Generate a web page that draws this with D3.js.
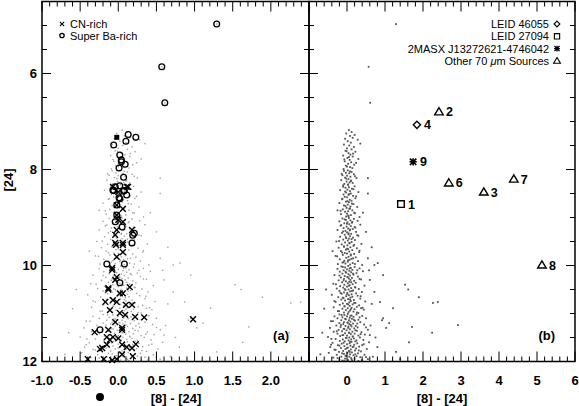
<!DOCTYPE html>
<html><head><meta charset="utf-8">
<script src="https://cdn.jsdelivr.net/npm/d3@7"></script>
<style>
body{margin:0;background:#fff}
svg{display:block}
text{font-family:"Liberation Sans",Arial,Helvetica,sans-serif;fill:#000}
</style>
</head><body>
<svg id="chart" width="579" height="406"></svg>
<script>
// ---------- DATA ----------
// field stars: [8]-[24] colour, [24] magnitude
const fieldStars = [
[0.05,7.18],[0.12,7.22],[-0.02,7.25],[0.2,7.28],[0.08,7.3],[0.15,7.34],[-0.05,7.36],[0.28,7.38],[0.02,7.41],[0.1,7.44],[0.35,7.46],[-0.08,7.48],[0.06,7.5],[0.18,7.53],[0.0,7.56],[0.12,7.58],[-0.04,7.61],[0.22,7.63],[0.04,7.66],[0.09,7.69],[-0.1,7.71],[0.15,7.73],[0.01,7.76],[0.3,7.78],[0.07,7.8],[-0.06,7.83],[0.11,7.85],[0.03,7.88],[0.19,7.9],[-0.03,7.92],[0.08,7.95],[0.14,7.97],[-0.09,7.99],
[0.02,8.02],[-0.08,8.03],[0.12,8.05],[-0.03,8.07],[0.06,8.08],[0.18,8.1],[-0.12,8.12],[0.0,8.13],[0.09,8.15],[-0.05,8.17],[0.25,8.18],[0.04,8.2],[-0.15,8.22],[0.11,8.23],[-0.01,8.25],[0.07,8.27],[0.15,8.28],[-0.07,8.3],[0.03,8.32],[-0.1,8.33],[0.2,8.35],[0.05,8.37],[-0.04,8.38],[0.13,8.4],[0.01,8.42],[-0.18,8.43],[0.08,8.45],[0.3,8.47],[-0.02,8.48],[0.1,8.5],[-0.09,8.52],[0.04,8.53],[0.16,8.55],[-0.06,8.57],[0.0,8.58],[0.22,8.6],[-0.13,8.62],[0.07,8.63],[0.12,8.65],[-0.03,8.67],[0.05,8.68],[-0.2,8.7],[0.17,8.72],[0.02,8.73],[-0.08,8.75],[0.09,8.77],[0.27,8.78],[-0.01,8.8],[0.06,8.82],[-0.11,8.83],[0.14,8.85],[0.03,8.87],[-0.05,8.88],[0.19,8.9],[0.0,8.92],[-0.16,8.93],[0.1,8.95],[0.04,8.97],[-0.02,8.98],[0.33,8.99],[0.55,8.5],[0.42,8.9],[-0.25,8.85],
[0.05,9.01],[-0.12,9.02],[0.18,9.03],[-0.03,9.05],[0.09,9.06],[0.28,9.07],[-0.2,9.08],[0.01,9.1],[0.13,9.11],[-0.07,9.12],[0.06,9.14],[0.35,9.15],[-0.15,9.16],[0.1,9.18],[-0.01,9.19],[0.2,9.2],[-0.09,9.22],[0.03,9.23],[0.15,9.24],[-0.25,9.26],[0.07,9.27],[-0.04,9.28],[0.24,9.3],[0.0,9.31],[-0.13,9.32],[0.11,9.34],[0.04,9.35],[-0.06,9.36],[0.3,9.38],[0.08,9.39],[-0.18,9.4],[0.16,9.42],[-0.02,9.43],[0.05,9.44],[-0.1,9.46],[0.21,9.47],[0.02,9.48],[-0.28,9.5],[0.12,9.51],[-0.05,9.52],[0.07,9.54],[0.38,9.55],[-0.14,9.56],[0.01,9.58],[0.17,9.59],[-0.08,9.6],[0.09,9.62],[-0.22,9.63],[0.26,9.64],[0.03,9.66],[-0.03,9.67],[0.14,9.68],[-0.16,9.7],[0.06,9.71],[0.32,9.72],[-0.06,9.74],[0.0,9.75],[0.19,9.76],[-0.11,9.78],[0.1,9.79],[-0.3,9.8],[0.04,9.82],[0.23,9.83],[-0.02,9.84],[0.12,9.86],[-0.19,9.87],[0.07,9.88],[-0.07,9.9],[0.29,9.91],[0.02,9.92],[-0.12,9.94],[0.15,9.95],[-0.04,9.96],[0.08,9.98],[0.4,9.99],[-0.24,9.97],[0.65,9.62],[0.81,9.95],[0.72,9.99],[0.5,9.3],[-0.38,9.7],[0.55,9.85],
[0.03,10.01],[-0.15,10.02],[0.2,10.03],[-0.05,10.04],[0.1,10.05],[0.33,10.06],[-0.25,10.07],[0.0,10.08],[0.14,10.09],[-0.09,10.1],[0.06,10.11],[0.42,10.12],[-0.19,10.13],[0.11,10.14],[-0.02,10.15],[0.25,10.16],[-0.12,10.17],[0.04,10.18],[0.17,10.19],[-0.33,10.2],[0.08,10.21],[-0.06,10.22],[0.29,10.23],[0.01,10.24],[-0.16,10.25],[0.13,10.26],[0.05,10.27],[-0.08,10.28],[0.37,10.29],[0.09,10.3],[-0.22,10.31],[0.19,10.32],[-0.03,10.33],[0.06,10.34],[-0.13,10.35],[0.23,10.36],[0.02,10.37],[-0.36,10.38],[0.15,10.39],[-0.07,10.4],[0.07,10.41],[0.46,10.42],[-0.18,10.43],[0.0,10.44],[0.21,10.45],[-0.1,10.46],[0.11,10.47],[-0.27,10.48],[0.31,10.49],[0.04,10.5],[-0.04,10.51],[0.16,10.52],[-0.2,10.53],[0.08,10.54],[0.39,10.55],[-0.08,10.56],[0.01,10.57],[0.24,10.58],[-0.14,10.59],[0.12,10.6],[-0.4,10.61],[0.05,10.62],[0.28,10.63],[-0.02,10.64],[0.14,10.65],[-0.23,10.66],[0.09,10.67],[-0.09,10.68],[0.35,10.69],[0.03,10.7],[-0.15,10.71],[0.18,10.72],[-0.05,10.73],[0.1,10.74],[0.48,10.75],[-0.3,10.76],[0.06,10.77],[0.22,10.78],[-0.11,10.79],[0.0,10.8],[0.15,10.81],[-0.19,10.82],[0.32,10.83],[0.07,10.84],[-0.06,10.85],[0.26,10.86],[-0.35,10.87],[0.12,10.88],[0.02,10.89],[-0.12,10.9],[0.2,10.91],[0.44,10.92],[-0.03,10.93],[0.08,10.94],[-0.24,10.95],[0.17,10.96],[0.04,10.97],[-0.08,10.98],[0.3,10.99],
[1.53,10.4],[1.61,10.5],[1.89,10.66],[2.26,10.78],[2.39,10.76],[0.87,10.76],[0.37,10.89],[0.6,10.3],[0.72,10.55],[0.95,10.2],[-0.55,10.5],[-0.6,10.9],[0.58,10.1],[1.21,10.89],[0.65,10.8],
[0.02,11.01],[-0.2,11.02],[0.25,11.02],[-0.07,11.03],[0.12,11.04],[0.4,11.05],[-0.33,11.06],[0.0,11.06],[0.17,11.07],[-0.12,11.08],[0.07,11.09],[0.5,11.1],[-0.25,11.1],[0.13,11.11],[-0.03,11.12],[0.3,11.13],[-0.15,11.14],[0.05,11.14],[0.21,11.15],[-0.42,11.16],[0.09,11.17],[-0.08,11.18],[0.35,11.18],[0.01,11.19],[-0.2,11.2],[0.16,11.21],[0.06,11.22],[-0.1,11.22],[0.45,11.23],[0.1,11.24],[-0.28,11.25],[0.23,11.26],[-0.04,11.26],[0.04,11.27],[-0.17,11.28],[0.28,11.29],[0.03,11.3],[-0.45,11.3],[0.19,11.31],[-0.09,11.32],[0.08,11.33],[0.55,11.34],[-0.22,11.34],[-0.01,11.35],[0.26,11.36],[-0.13,11.37],[0.14,11.38],[-0.35,11.38],[0.38,11.39],[0.05,11.4],[-0.05,11.41],[0.2,11.42],[-0.25,11.42],[0.1,11.43],[0.47,11.44],[-0.1,11.45],[0.0,11.46],[0.3,11.46],[-0.18,11.47],[0.15,11.48],[-0.5,11.49],[0.06,11.5],[0.34,11.5],[-0.03,11.51],[0.18,11.52],[-0.3,11.53],[0.11,11.54],[-0.11,11.54],[0.43,11.55],[0.04,11.56],[-0.19,11.57],[0.22,11.58],[-0.06,11.58],[0.12,11.59],[0.58,11.6],[-0.38,11.61],[0.07,11.62],[0.27,11.62],[-0.14,11.63],[0.0,11.64],[0.19,11.65],[-0.24,11.66],[0.4,11.66],[0.09,11.67],[-0.07,11.68],[0.32,11.69],[-0.44,11.7],[0.15,11.7],[0.02,11.71],[-0.16,11.72],[0.24,11.73],[0.52,11.74],[-0.04,11.74],[0.1,11.75],[-0.3,11.76],[0.21,11.77],[0.05,11.78],[-0.1,11.78],[0.37,11.79],[-0.21,11.8],[0.13,11.81],[0.01,11.82],[-0.48,11.82],[0.29,11.83],[-0.08,11.84],[0.08,11.85],[0.46,11.86],[-0.27,11.86],[0.17,11.87],[-0.02,11.88],[0.25,11.89],[-0.15,11.9],[0.06,11.9],[0.35,11.91],[-0.36,11.92],[0.11,11.93],[-0.05,11.94],[0.2,11.94],[0.55,11.95],[-0.2,11.96],[0.03,11.97],[0.14,11.98],[-0.12,11.98],[0.3,11.99],
[2.92,11.24],[2.24,11.4],[1.71,11.28],[0.92,11.14],[0.95,11.1],[1.63,11.6],[1.29,11.8],[1.11,11.2],[1.03,11.3],[0.75,11.5],[0.68,11.9],[-0.65,11.4],[-0.7,11.85],[0.8,11.7],[1.4,11.95],[0.62,11.25],
[1.29,4.97],[0.57,5.86],[0.61,6.61],[0.55,8.18],
[-0.01,7.62],[0.16,7.67],[0.05,7.74],[-0.07,7.79],[0.24,7.86],[0.0,7.94],
[0.08,8.04],[-0.14,8.09],[0.21,8.14],[-0.02,8.19],[0.1,8.24],[0.03,8.31],[-0.1,8.36],[0.17,8.41],[-0.05,8.46],[0.06,8.51],[0.24,8.56],[-0.12,8.61],[0.01,8.66],[0.13,8.71],[-0.04,8.76],[0.08,8.81],[-0.17,8.86],[0.21,8.91],[0.03,8.96],
[-0.06,9.04],[0.14,9.09],[0.0,9.13],[-0.17,9.17],[0.22,9.21],[0.08,9.25],[-0.1,9.29],[0.04,9.33],[0.27,9.37],[-0.03,9.41],[0.12,9.45],[-0.21,9.49],[0.06,9.53],[0.19,9.57],[-0.08,9.61],[0.0,9.65],[0.33,9.69],[-0.13,9.73],[0.1,9.77],[-0.26,9.81],[0.16,9.85],[0.03,9.89],[-0.09,9.93],[0.21,9.97],
[-0.11,10.03],[0.07,10.06],[0.27,10.1],[-0.04,10.13],[0.16,10.17],[-0.2,10.21],[0.02,10.24],[0.33,10.28],[-0.09,10.31],[0.11,10.35],[-0.29,10.39],[0.05,10.42],[0.22,10.46],[-0.06,10.49],[0.13,10.53],[-0.17,10.57],[0.0,10.6],[0.36,10.64],[-0.11,10.67],[0.08,10.71],[-0.33,10.74],[0.19,10.78],[0.03,10.81],[-0.07,10.85],[0.41,10.88],[0.1,10.91],[-0.21,10.95],[0.26,10.98],
[-0.14,11.03],[0.09,11.05],[0.33,11.08],[-0.05,11.11],[0.18,11.13],[-0.37,11.16],[0.02,11.19],[0.27,11.21],[-0.16,11.24],[0.12,11.27],[0.5,11.29],[-0.07,11.32],[0.22,11.35],[-0.27,11.37],[0.06,11.4],[0.36,11.43],[-0.12,11.45],[0.15,11.48],[-0.01,11.51],[-0.41,11.53],[0.25,11.56],[0.08,11.59],[-0.09,11.61],[0.44,11.64],[-0.2,11.67],[0.17,11.69],[0.0,11.72],[-0.33,11.75],[0.31,11.77],[0.07,11.8],[-0.13,11.83],[0.22,11.85],[-0.04,11.88],[0.5,11.91],[-0.25,11.93],[0.12,11.96],[-0.07,11.99],[0.39,11.97],[-0.42,11.65],[0.6,11.45]
];
// CN-rich stars (crosses, panel a)
const cnRich = [
[0.13,8.36],[0.0,8.47],[0.06,8.82],[-0.02,8.74],[0.18,9.26],[-0.04,9.36],[0.0,9.05],[-0.07,8.36],[0.11,8.36],
[-0.03,9.57],[0.06,9.57],[0.06,9.72],[-0.02,9.82],[-0.08,10.09],[-0.04,10.3],[-0.13,10.47],[0.15,10.45],[0.06,10.58],[-0.17,10.76],[0.1,10.82],[0.18,10.82],[-0.02,10.76],[0.22,11.07],[0.34,11.08],[0.02,10.99],[-0.31,11.39],[-0.13,11.34],[0.05,11.34],[-0.07,11.49],[0.11,11.7],[0.18,11.72],[0.23,11.64],[-0.21,11.72],[-0.15,11.65],[0.05,11.65],[-0.11,11.55],
[-0.02,8.95],[-0.02,9.26],[0.06,9.53],[-0.04,9.53],[0.98,11.12],[-0.24,11.74],[0.05,11.85],[0.19,11.89],[-0.4,11.95],[-0.19,11.95],[-0.08,11.97],[-0.02,11.95],
[-0.08,10.05],[-0.02,10.24],[-0.13,10.5],[0.02,10.58],[-0.07,10.72],[-0.11,10.93],[0.09,11.03],[-0.04,11.18],[0.05,11.3],[-0.15,11.49],[0.0,11.52],[0.06,9.09]
];
// Super Ba-rich stars (open circles, panel a)
const superBaRich = [
[1.29,4.97],[0.57,5.86],[0.61,6.61],
[0.13,7.27],[0.10,7.41],[0.23,7.33],[-0.06,7.49],[0.02,7.70],[0.04,7.84],[0.09,7.89],[0.01,7.97],[0.07,8.16],[-0.04,8.36],[0.02,8.34],[0.07,8.45],[0.11,8.53],[-0.07,8.43],[0.02,8.61],[-0.02,8.95],[0.05,9.2],[0.19,9.37],[0.18,9.53],[-0.15,9.97],[0.08,9.97],[0.02,10.36],[-0.24,11.34],[-0.02,8.74],[-0.04,9.09],[0.21,9.33],[-0.06,8.44],[0.08,8.44],[0.01,8.59],[0.04,7.8]
];
const filledSquare = [[-0.02,7.33]];
const strayDot = [[-0.24,12.74]];
// 70 micron sources (panel b)
const srcLabel = ["1","2","3","4","6","7","8","9"];
const srcColor = [1.42,2.42,3.60,1.84,2.68,4.39,5.13,1.74];
const srcMag   = [8.72,6.80,8.47,7.07,8.28,8.20,9.99,7.84];
const srcKind  = ["square","triangle","triangle","diamond","triangle","triangle","triangle","asterisk"];
// legends / ticks
const legendA = ["CN-rich","Super Ba-rich"];
const legendAKind = ["cross","circle"];
const legendB = ["LEID 46055","LEID 27094","2MASX J13272621-4746042","Other 70 \u03bcm Sources"];
const legendBKind = ["diamond","square","asterisk","triangle"];
const xLabelsA = [-1.0,-0.5,0.0,0.5,1.0,1.5,2.0];
const xLabelsB = [0,1,2,3,4,5,6];
const yLabels = [6,8,10,12];
const panelTags = ["(a)","(b)"];
const xTitle = "[8] - [24]";
const yTitle = "[24]";

// ---------- DRAW ----------
const svg = d3.select("#chart");
const xA = d3.scaleLinear().domain([-1,2.5]).range([42,309]);
const xB = d3.scaleLinear().domain([-1,6]).range([309,575]);
const y = d3.scaleLinear().domain([4.5,12]).range([1.5,361.5]);

const sym = {
  cross: "M-2.9,-2.9L2.9,2.9M-2.9,2.9L2.9,-2.9",
  triangle: "M0,-4.2L4.3,3L-4.3,3Z",
  diamond: "M0,-3.6L3.6,0L0,3.6L-3.6,0Z",
  square: "M-3.3,-3.3H3.3V3.3H-3.3Z",
  asterisk: "M-3.2,-3.2L3.2,3.2M-3.2,3.2L3.2,-3.2M0,-3.6V3.6M-3.6,0H3.6"
};
function marker(g, kind, cx, cy, scale){
  const s = scale||1;
  if(kind==="circle"){
    g.append("circle").attr("cx",cx).attr("cy",cy).attr("r",2.9*s)
     .attr("fill","none").attr("stroke","#000").attr("stroke-width",1.3);
  } else {
    g.append("path").attr("d",sym[kind])
     .attr("transform",`translate(${cx},${cy}) scale(${s})`)
     .attr("fill","none").attr("stroke","#000").attr("stroke-width",kind==="asterisk"?1.6:1.4);
  }
}

// field stars
const gA = svg.append("g");
gA.selectAll("rect.fa").data(fieldStars.filter(d=>d[0]<=2.5)).join("rect")
  .attr("x",d=>xA(d[0])-0.7).attr("y",d=>y(d[1])-0.7).attr("width",1.4).attr("height",1.4)
  .attr("fill","#a0a0a0");
const gB = svg.append("g");
gB.selectAll("rect.fb").data(fieldStars).join("rect")
  .attr("x",d=>xB(d[0])-0.9).attr("y",d=>y(d[1])-0.9).attr("width",1.8).attr("height",1.8)
  .attr("fill","#555");

// CN-rich & Ba-rich
cnRich.forEach(d=>marker(gA,"cross",xA(d[0]),y(d[1])));
superBaRich.forEach(d=>marker(gA,"circle",xA(d[0]),y(d[1])));
filledSquare.forEach(d=>gA.append("rect").attr("x",xA(d[0])-2.5).attr("y",y(d[1])-2.5).attr("width",5).attr("height",5).attr("fill","#000"));
strayDot.forEach(d=>svg.append("circle").attr("cx",xA(d[0])).attr("cy",y(d[1])).attr("r",4).attr("fill","#000"));

// sources panel b
srcLabel.forEach((lab,i)=>{
  const cx = xB(srcColor[i]), cy = y(srcMag[i]);
  marker(gB, srcKind[i], cx, cy, 1);
  gB.append("text").attr("x",cx+7).attr("y",cy+4.5).attr("font-size",12.5).attr("font-weight","bold").text(lab);
});

// axes frames
function frame(x, minorStep, majorStep){
  const [x0,x1] = x.range(), [y0,y1] = [y.range()[0], y.range()[1]];
  const g = svg.append("g").attr("stroke","#000").attr("fill","none");
  g.append("rect").attr("x",x0).attr("y",y0).attr("width",x1-x0).attr("height",y1-y0).attr("stroke-width",1.5);
  const [d0,d1] = x.domain();
  const nMin = Math.round((d1-d0)/minorStep);
  for(let i=0;i<=nMin;i++){
    const v = d0 + i*minorStep;
    const isMaj = Math.abs(v/majorStep - Math.round(v/majorStep))<1e-6;
    const L = isMaj?10:5;
    const px = x(v);
    g.append("line").attr("x1",px).attr("x2",px).attr("y1",y1).attr("y2",y1-L).attr("stroke-width",1);
    g.append("line").attr("x1",px).attr("x2",px).attr("y1",y0).attr("y2",y0+L).attr("stroke-width",1);
  }
  const [m0,m1] = y.domain();
  for(let v=m0; v<=m1+1e-6; v+=0.5){
    const isMaj = Math.abs(v/2 - Math.round(v/2))<1e-6;
    const L = isMaj?9:5;
    const py = y(v);
    g.append("line").attr("x1",x0).attr("x2",x0+L).attr("y1",py).attr("y2",py).attr("stroke-width",1);
    g.append("line").attr("x1",x1).attr("x2",x1-L).attr("y1",py).attr("y2",py).attr("stroke-width",1);
  }
}
frame(xA, 0.1, 0.5);
frame(xB, 0.2, 1);

// tick labels
const fs = 13;
const fw = "bold";
svg.append("g").selectAll("text").data(xLabelsA).join("text")
  .attr("x",d=>xA(d)).attr("y",385).attr("text-anchor","middle").attr("font-size",fs).attr("font-weight",fw).text(d=>d.toFixed(1));
svg.append("g").selectAll("text").data(xLabelsB).join("text")
  .attr("x",d=>xB(d)).attr("y",385).attr("text-anchor","middle").attr("font-size",fs).attr("font-weight",fw).text(d=>d);
svg.append("g").selectAll("text").data(yLabels).join("text")
  .attr("x",37).attr("y",d=>y(d)+4.5).attr("text-anchor","end").attr("font-size",fs).attr("font-weight",fw).text(d=>d);

// axis titles
svg.append("text").attr("x",176).attr("y",403).attr("text-anchor","middle").attr("font-size",fs).attr("font-weight",fw).text(xTitle);
svg.append("text").attr("x",442).attr("y",403).attr("text-anchor","middle").attr("font-size",fs).attr("font-weight",fw).text(xTitle);
svg.append("text").attr("transform","translate(13,180) rotate(-90)").attr("text-anchor","middle").attr("font-size",fs).attr("font-weight",fw).text(yTitle);

// panel tags
svg.append("text").attr("x",289).attr("y",340).attr("text-anchor","end").attr("font-size",fs).attr("font-weight",fw).text(panelTags[0]);
svg.append("text").attr("x",555).attr("y",340).attr("text-anchor","end").attr("font-size",fs).attr("font-weight",fw).text(panelTags[1]);

// legend a
legendA.forEach((t,i)=>{
  const ly = 24 + i*11.5;
  marker(svg, legendAKind[i], 62, ly, 0.75);
  svg.append("text").attr("x",70).attr("y",ly+4).attr("font-size",11).text(t);
});
// legend b
legendB.forEach((t,i)=>{
  const ly = 24 + i*12.3;
  marker(svg, legendBKind[i], 557, ly, 0.8);
  const tx = svg.append("text").attr("x",549).attr("y",ly+4).attr("text-anchor","end").attr("font-size",11);
  if(t.indexOf("\u03bc")>=0){
    const parts = t.split("\u03bc");
    tx.append("tspan").text(parts[0]);
    tx.append("tspan").attr("font-style","italic").text("\u03bc");
    tx.append("tspan").text(parts[1]);
  } else tx.text(t);
});
</script>
</body></html>
